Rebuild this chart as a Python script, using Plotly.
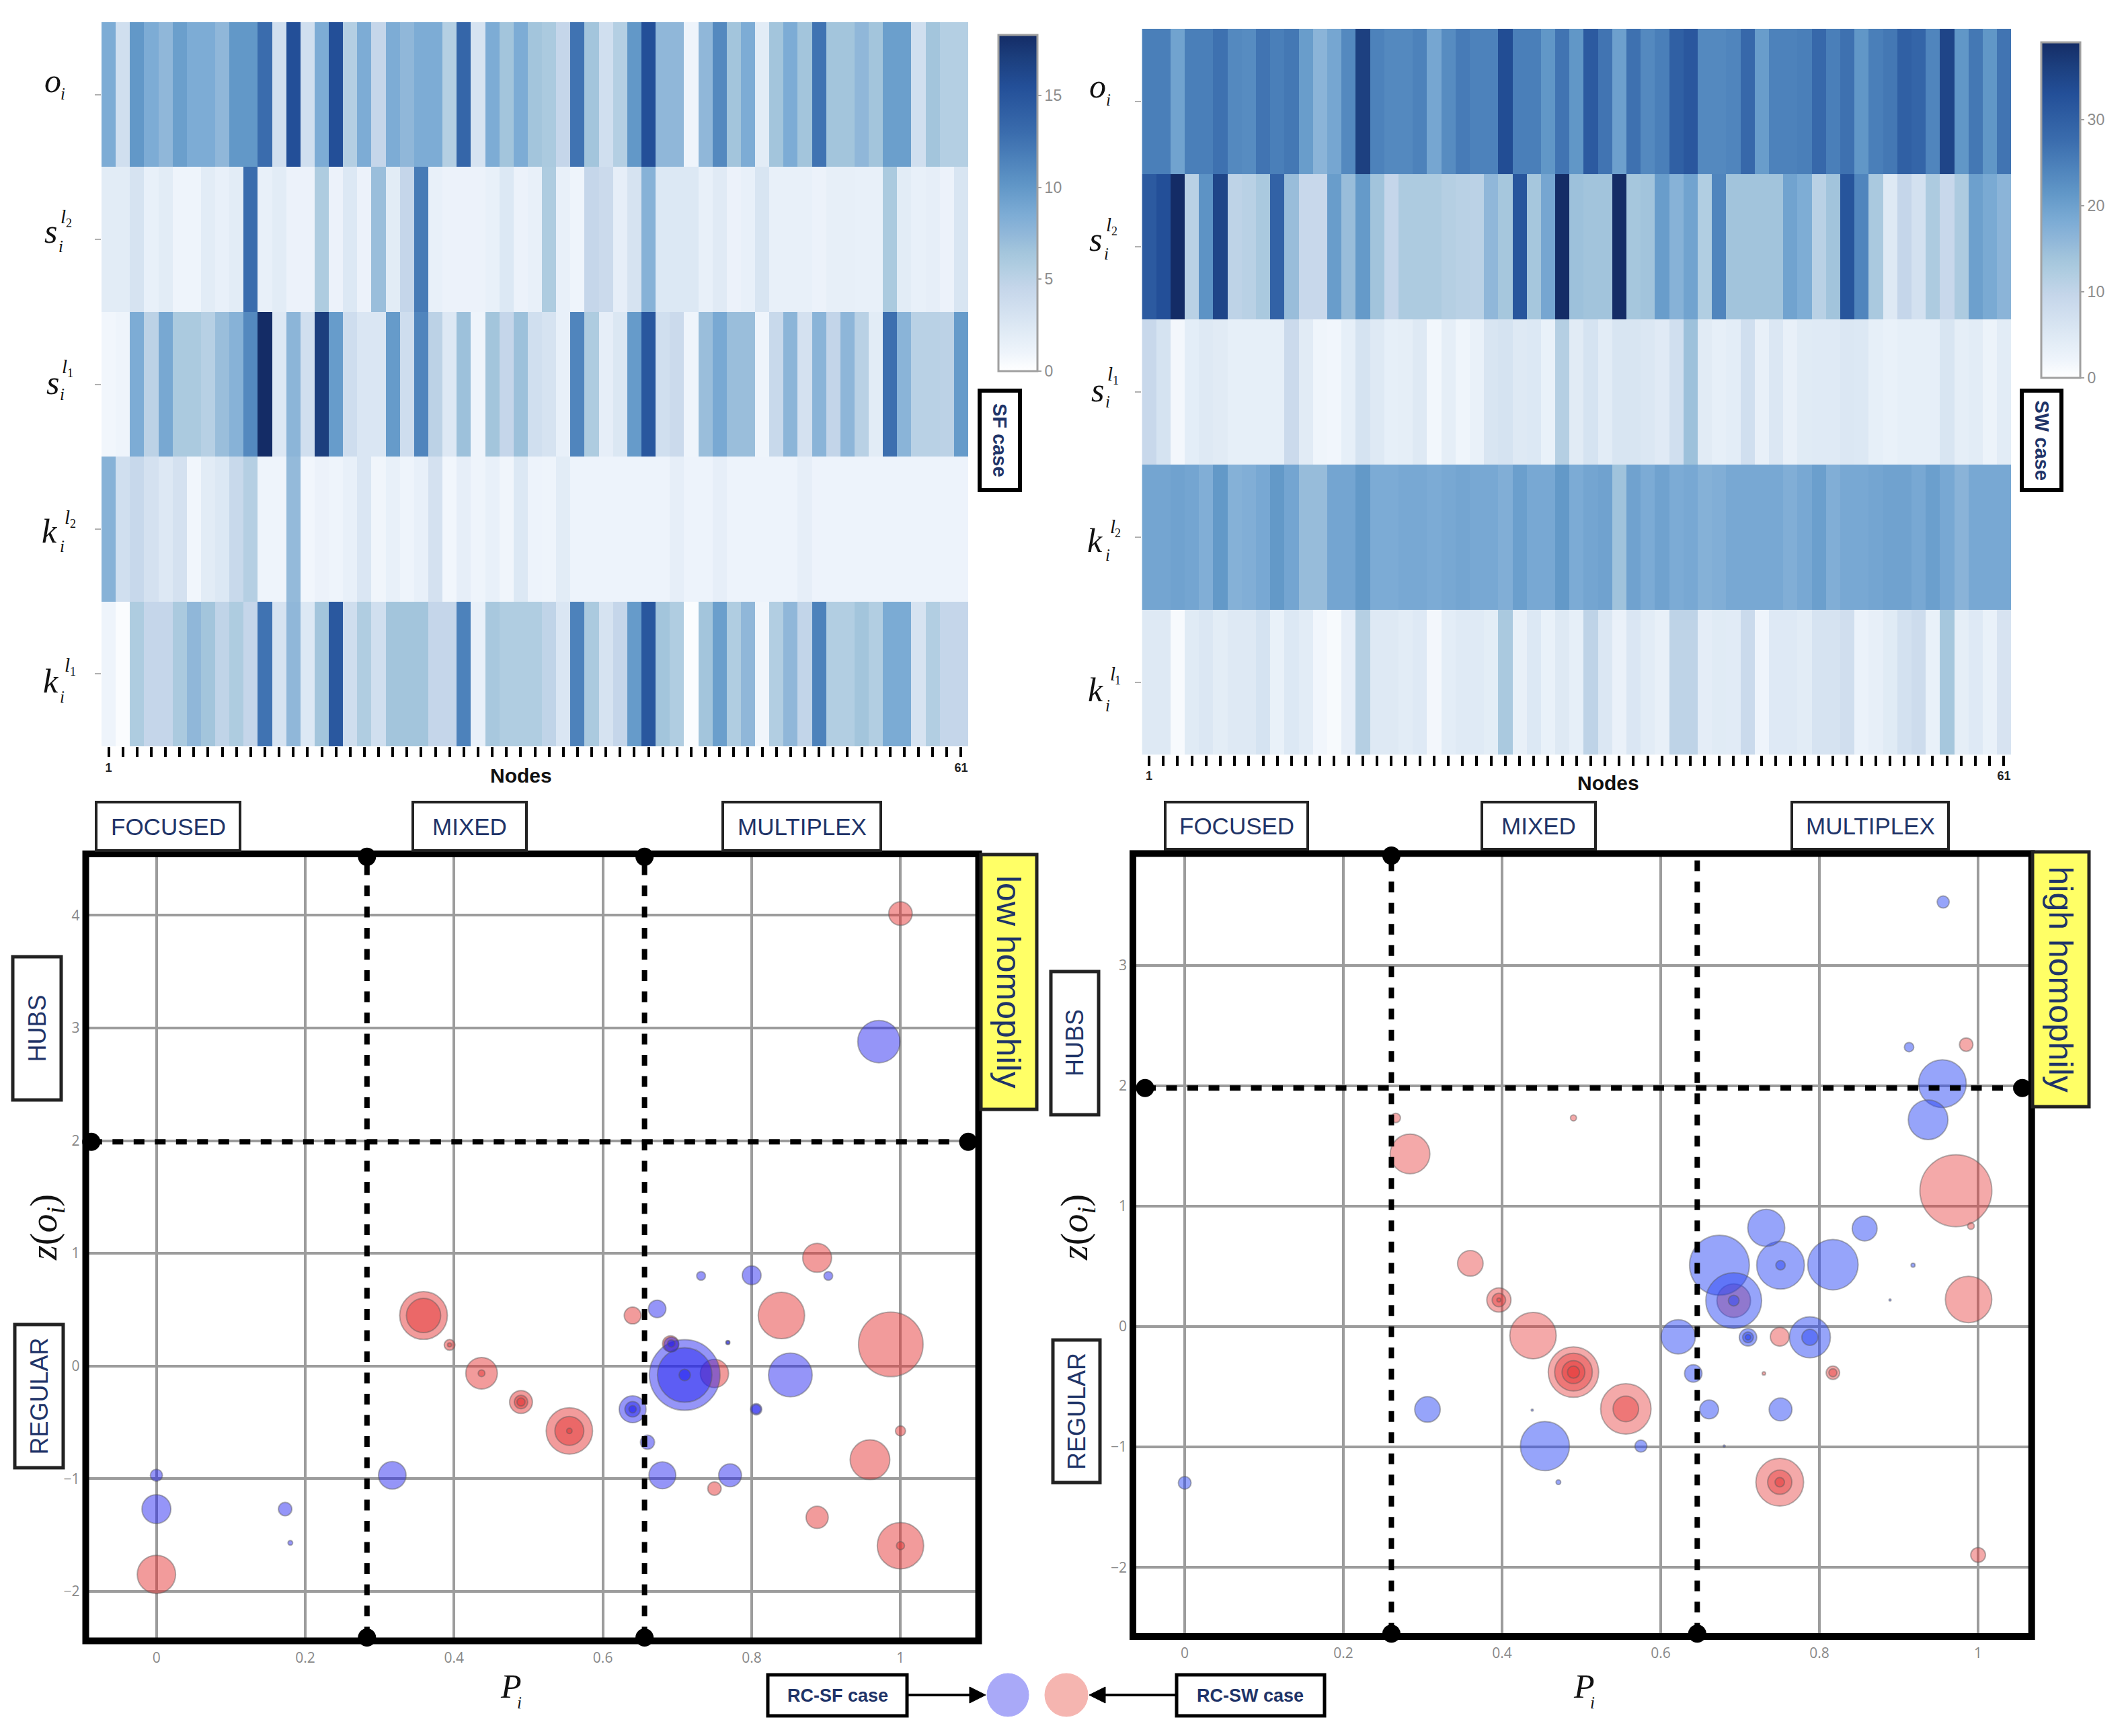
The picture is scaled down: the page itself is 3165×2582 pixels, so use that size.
import plotly.graph_objects as go

W, H = 3165, 2582

# ---------- heatmap data ----------
row_names = ["o", "s2", "s1", "k2", "k1"]
nodes = list(range(1, 62))
sf_o = [8.5,3.5,10,8.5,7.5,9.5,8.5,8.5,7.5,10,10,13,3.5,15.5,3.5,8.5,15.5,5.5,8.5,4.5,8.5,7.5,8.5,8.5,5.5,13.5,3,8.5,6.5,8.5,6.5,6,4.5,12.5,6.5,3.5,5.5,10,15.5,7.5,7.5,1,7.5,11,6.5,8.5,2,6.5,8.5,6.5,12.5,6.5,6.5,7.5,6.5,9.5,9.5,3.5,6.5,5.5,5.5]
sf_s2 = [2,2,3,1.5,2,1,1,2,1.5,2,13,1.5,2,1.2,1.2,5.8,1.2,2.5,1.2,7,2,4.5,12,1.5,1.2,1.2,1.2,1.5,2.5,1.2,1.5,5.8,1.5,1,4.5,4,1.7,3,8,2.5,2.5,2.5,1.5,2.2,1.2,1.5,2.8,1.5,1.5,1.5,1.2,1.6,1.6,1.5,1.5,6,2,1.5,1.7,1.2,2.8]
sf_s1 = [.8,1,8.5,5,8.8,6,6,5.3,7,8,11,18.3,2.4,7.7,3.5,17,9.7,3.7,2.7,2.7,9.8,3.7,11.3,5,2.4,6.8,1,6.5,4.5,6.8,3.5,3,1.5,11.3,5.8,1.7,2.6,9.8,14.8,3.5,4,1,7,8.7,7,7,1,4.2,7.7,3.2,7.8,4.6,7.6,5.2,2,12.8,7.8,5.2,5.2,5,9.8]
sf_k2 = [8,3.5,4.3,3.2,2.4,3.2,.8,2,2.5,4.2,5.4,1,1,7.3,.8,1.2,1,1.5,2.7,.9,1.5,1,1.5,3.2,.8,1.7,1,1.5,.9,2.5,1.1,1,2,1.1,1.1,1.1,1.1,1.1,1.1,1.1,1.7,1.1,1.1,1.7,1.1,1.1,1.1,1.1,1.1,1.7,1.1,1.1,1.1,1.1,1.1,1.1,1.1,1.1,1.1,1.1,1.1]
sf_k1 = [1,.3,5.8,4.5,4.5,6,7.5,6.5,4.8,5.8,4.5,12.5,3,7.5,2.5,6.5,14.7,3.6,5.7,3.5,6.5,6.5,6.5,4.5,4.5,11.5,1.5,6.2,5.7,5.7,5.7,4.8,2.7,11.5,6,3,4.5,9.8,14.8,6.5,5.7,.3,6.5,9.5,5.7,7.5,.9,5.6,7.5,4.7,11.5,5.6,5.6,6.5,5.6,8.6,8.6,3,5.6,4.5,4.5]

sw_o = [25,25,19.5,25,25,27,23.5,23,26.5,25,26,20.5,16.5,19,23.5,36,24.5,23.5,23.5,24.5,19,23,25.5,24.5,24.5,33.5,25,25,21.5,26.5,21.5,31,26.5,20,27,23.5,25,30,31.5,23.5,23.5,24,28.5,20.5,24.5,24.5,25,28.5,25,27,21.5,25,26,30,29,24,35,21.5,26,21.5,26.5]
sw_s2 = [31,33,39,11,22,35,10.5,11,13,29.5,15,9,9,20.5,15,21,14,9.5,12.5,12.5,12.5,11.5,11,10.8,16,13.5,32,13.5,19,39,14.5,14,14,39,13.5,14,20.5,17,19.5,12,24,14,14,14,14,19.5,18,11,14,32,24,13,5,9.5,7,12.5,9,12.5,20,18.5,16.5]
sw_s1 = [9,6.5,1.5,4,5,4.5,3.5,3.5,3.5,3.5,8.5,4.5,2,1.8,3.5,6.5,5,3.5,3.7,5,1.6,3.7,2,3,6,6.5,5,5.3,3,11.5,4.5,6.5,4.3,6,6,5.5,4.7,7.5,14.5,4.5,3.5,4,7.5,3.2,5.5,3.2,4.6,4.8,4.8,5.5,5.3,3.5,3,3.5,3.5,3.5,6,3.7,4.3,2.4,4.3]
sw_k2 = [19.2,19.2,19.7,19.2,17.7,21.2,17.2,17.7,18.7,21.2,19.2,15.2,15.2,19.2,19.2,21.2,18.2,18.2,18.7,18.7,18.2,18.7,19.2,18.7,18.7,17.7,20.2,18.7,18.7,21.2,18.2,19.2,19.7,14.2,19.7,18.2,19.7,18.2,18.7,17.2,17.7,18.7,18.7,18.7,18.7,17.7,18.7,20.2,17.7,18.7,18.7,19.2,19.7,19.7,18.7,20.2,18.7,16.7,18.7,18.7,18.7]
sw_k1 = [5,5,1,4.6,5.5,4.1,5,5,6.5,3,5.3,4.2,1.7,1,3.6,11.5,5,5,4.3,4.9,1.5,4,4.8,4.8,4.1,13,3.2,5.3,3,5,3.5,10.5,5.5,2.9,5.7,4.3,3.2,10.5,10.5,3.9,4.6,4.4,8.7,2.2,4.9,4.9,4.2,6.4,6.4,7.6,2.7,3.4,4.6,7,8,3,13.5,3.7,4.9,3,6.3]

# ---------- bubble data (P_i, z(o_i), diameter) ----------
sf_blue_p = [.71,.71,.852,.971,0,.317,.64,.68,.771,.80,.66,.673,0,.173,.64,.71,.732,.903,.806,.692,.64,.806,.18,.768,.768,.692]
sf_blue_z = [-.08,-.08,-.08,2.88,-1.27,-.97,-.384,-.97,-.97,.805,-.677,.507,-.97,-1.27,-.384,-.08,.80,.80,-.384,.19,-.384,-.384,-1.57,.208,.208,.2]
sf_blue_d = [105,81,65,63,43,41,40,40,34,28,21,26,18,20,23,17,13,13,17,22,11,14,7,6,5,11]
sf_red_p = [.987,.359,.555,.84,1.0,0,.959,.437,.75,.888,1.0,.49,.888,.359,.555,.691,.64,.49,.75,.394,1.0,.49,1.0,.437,.555,.394]
sf_red_z = [.192,.448,-.576,.448,-1.595,-1.85,-.832,-.064,-.066,.96,4.016,-.32,-1.344,.448,-.576,.197,.448,-.32,-1.088,.187,-.576,-.32,-1.595,-.064,-.576,.187]
sf_red_d = [96,71,69,69,69,57,59,47,42,43,35,34,33,51,43,24,25,20,20,16,15,12,12,10,8,6]

sw_blue_p = [.674,.692,.817,.454,.751,.788,.955,.937,.733,.622,.857,.306,.751,.661,.710,.641,.788,0,.575,.956,.710,.692,.751,.913,.710,.471,.918,.889,.438,.68]
sw_blue_z = [.509,.215,.514,-.993,.509,-.09,2.017,1.717,.819,-.085,.814,-.689,-.689,-.689,-.09,-.39,-.09,-1.298,-.993,3.525,-.09,.215,.509,2.32,-.09,-1.293,.509,.22,-.694,-.993]
sw_blue_d = [89,83,75,73,71,61,71,59,55,51,37,38,34,28,26,26,24,19,18,18,16,16,14,14,8,7,6,3,3,3]
sw_red_p = [.972,.49,.556,.75,.439,.988,.284,.692,.49,.396,.36,.556,.75,.49,.75,.985,1.0,.396,.49,.817,.266,.75,.817,.991,.49,.396,.73]
sw_red_z = [1.128,-.379,-.684,-1.293,-.075,.225,1.433,.215,-.379,.22,.524,-.684,-1.293,-.379,-.085,2.341,-1.897,.22,-.379,-.384,1.732,-1.293,-.384,.834,1.732,.22,-.389]
sw_red_d = [107,75,75,71,69,69,59,50,56,36,38,38,36,34,28,20,22,20,18,20,14,14,12,10,9,6,5]

x_ticks = [0, .2, .4, .6, .8, 1]
x_tick_text = ["0", "0.2", "0.4", "0.6", "0.8", "1"]
sf_y_ticks = [-2, -1, 0, 1, 2, 3, 4]
sw_y_ticks = [-2, -1, 0, 1, 2, 3]
sf_bar_ticks = [0, 5, 10, 15]
sw_bar_ticks = [0, 10, 20, 30]

# ---------- styling ----------
NAVY = "#1f3468"
levels = [(0,"#ffffff"),(1,"#eef4fb"),(2,"#e2ecf6"),(3,"#d6e3f1"),(4.5,"#c5d6ea"),(5.7,"#b0cde1"),(6.5,"#a3c5dc"),
          (7.5,"#90b7d9"),(8.5,"#7dacd5"),(10,"#6298c8"),(11.5,"#4d82bb"),(13,"#3a6cad"),(15.5,"#234f98"),(17,"#1c3f7e"),(18.3,"#142c66")]
cscale = [[a/18.3, c] for a, c in levels]

def px(x): return x / W
def py(y): return 1 - y / H

fig = go.Figure()

def heat(z, axis, xr, yr, zmax, ticks, bar):
    n = "" if axis == 1 else str(axis)
    fig.add_trace(go.Heatmap(z=z, x=nodes, y=row_names, xaxis="x"+n, yaxis="y"+n, colorscale=cscale, zmin=0, zmax=zmax,
        xgap=0, ygap=0, hoverongaps=False,
        colorbar=dict(x=px(bar[0]), xanchor="left", xpad=0, y=py(bar[3]), yanchor="bottom", ypad=0,
                      lenmode="pixels", len=bar[3]-bar[2], thicknessmode="pixels", thickness=bar[1]-bar[0],
                      outlinecolor="#a0a0a0", outlinewidth=3, tickvals=ticks, ticks="outside", ticklen=5, tickwidth=2, tickcolor="#a0a0a0",
                      tickfont=dict(family="Liberation Sans", size=23, color="#8c8c8c"))))
    fig.update_layout({
        f"xaxis{n}": dict(domain=[px(xr[0]), px(xr[1])], range=[.5, 61.5], anchor="y"+n, tickmode="array", tickvals=nodes,
            ticktext=["<b>%d</b>" % v if v in (1, 61) else "" for v in nodes], ticks="outside", ticklen=15, tickwidth=4, tickcolor="#000",
            tickfont=dict(family="Liberation Sans", size=18, color="#222"), tickangle=0, showgrid=False, zeroline=False, showline=False),
        f"yaxis{n}": dict(domain=[py(yr[1]), py(yr[0])], autorange="reversed", anchor="x"+n, ticks="outside", ticklen=9, tickwidth=2,
            tickcolor="#b0b0b0", showticklabels=False, showgrid=False, zeroline=False, showline=False)})

heat([sf_o, sf_s2, sf_s1, sf_k2, sf_k1], 1, (151, 1440), (33, 1110), 18.3, sf_bar_ticks, (1485, 1543, 52, 552))
heat([sw_o, sw_s2, sw_s1, sw_k2, sw_k1], 2, (1698.4, 2991), (42.7, 1122.5), 39, sw_bar_ticks, (3036, 3094, 63, 562))

SF_BLUE = "rgba(30,30,240,0.47)"
SW_BLUE = "rgba(40,70,245,0.49)"
SF_RED = "rgba(228,50,50,0.49)"
SW_RED = "rgba(228,50,50,0.42)"
EDGE = "rgba(90,90,90,0.45)"

def bubbles(p, z, d, col, axis):
    n = str(axis)
    fig.add_trace(go.Scatter(x=p, y=z, mode="markers", xaxis="x"+n, yaxis="y"+n, showlegend=False,
        marker=dict(size=d, sizemode="diameter", color=col, opacity=1, line=dict(color=EDGE, width=2))))

def scatter_axes(axis, xr, yr, xrange, yrange, yticks):
    n = str(axis)
    common = dict(showgrid=True, gridcolor="#9c9c9c", gridwidth=3.5, zeroline=False, showline=False, ticks="",
                  tickfont=dict(family="Open Sans", size=21, color="#888888"))
    fig.update_layout({
        f"xaxis{n}": dict(domain=[px(xr[0]), px(xr[1])], range=xrange, anchor="y"+n, tickmode="array", tickvals=x_ticks, ticktext=x_tick_text, ticklabelstandoff=10, **common),
        f"yaxis{n}": dict(domain=[py(yr[1]), py(yr[0])], range=yrange, anchor="x"+n, tickmode="array", tickvals=yticks, ticklabelstandoff=8, **common)})

scatter_axes(3, (127.5, 1455.5), (1270, 2440.5), [-.095, 1.105], [-2.44, 4.546], sf_y_ticks)
scatter_axes(4, (1685, 3021.7), (1269.4, 2434), [-.0653, 1.0675], [-2.574, 3.928], sw_y_ticks)

bubbles(sf_red_p, sf_red_z, sf_red_d, SF_RED, 3)
bubbles(sf_blue_p, sf_blue_z, sf_blue_d, SF_BLUE, 3)
bubbles(sw_red_p, sw_red_z, sw_red_d, SW_RED, 4)
bubbles(sw_blue_p, sw_blue_z, sw_blue_d, SW_BLUE, 4)

shapes, ann = [], []

# threshold lines and their end dots
DASH = "16px,15.5px"
thresholds = {3: dict(v=[.283, .656], h=1.99, top=[4.52, 4.52], bot=[-2.41, -2.41], left=-.0875, right=1.091),
              4: dict(v=[.2605, .646], h=1.98, top=[3.91, 3.94], bot=[-2.55, -2.55], left=-.05, right=1.0557)}
for a, t in thresholds.items():
    n = str(a)
    for i, v in enumerate(t["v"]):
        shapes.append(dict(type="line", xref="x"+n, yref="y"+n, x0=v, x1=v, y0=t["bot"][i], y1=t["top"][i], line=dict(color="#000", width=8, dash=DASH)))
    shapes.append(dict(type="line", xref="x"+n, yref="y"+n, x0=t["left"], x1=t["right"], y0=t["h"], y1=t["h"], line=dict(color="#000", width=8, dash=DASH)))
    shapes.append(dict(type="rect", xref="x"+n+" domain", yref="y"+n+" domain", x0=0, x1=1, y0=0, y1=1, line=dict(color="#000", width=10)))
    fig.add_trace(go.Scatter(x=t["v"] + t["v"] + [t["left"], t["right"]], y=t["top"] + t["bot"] + [t["h"], t["h"]], mode="markers",
        xaxis="x"+n, yaxis="y"+n, showlegend=False, cliponaxis=False, marker=dict(size=27, color="#000")))

def box(x0, x1, y0, y1, text, size, angle=0, fill="#ffffff", bold=False, lw=4, edge="#222222", color=NAVY):
    shapes.append(dict(type="rect", xref="paper", yref="paper", x0=px(x0), x1=px(x1), y0=py(y1), y1=py(y0), fillcolor=fill, line=dict(color=edge, width=lw)))
    ann.append(dict(xref="paper", yref="paper", x=px((x0+x1)/2), y=py((y0+y1)/2), text=f"<b>{text}</b>" if bold else text, showarrow=False, textangle=angle,
                    xanchor="center", yanchor="middle", font=dict(family="Liberation Sans", size=size, color=color)))

for x0, x1, t in [(143,357,"FOCUSED"),(614,783,"MIXED"),(1075,1310,"MULTIPLEX")]:
    box(x0, x1, 1193, 1265, t, 35)
for x0, x1, t in [(1733,1945,"FOCUSED"),(2204,2373,"MIXED"),(2665,2898,"MULTIPLEX")]:
    box(x0, x1, 1193, 1263, t, 35)
box(19, 91, 1423, 1636, "HUBS", 36, -90, lw=5)
box(22, 94, 1970, 2183, "REGULAR", 36, -90, lw=5)
box(1563, 1634, 1445, 1658, "HUBS", 36, -90, lw=5)
box(1566, 1636, 1993, 2205, "REGULAR", 36, -90, lw=5)
box(1459, 1542, 1271, 1650, "low homophily", 50, 90, fill="#ffff66", lw=5)
box(3023, 3107, 1267, 1646, "high homophily", 50, 90, fill="#ffff66", lw=5)
box(1457, 1517, 581, 729, "SF case", 29, 90, bold=True, lw=6, edge="#000")
box(3007, 3066, 581, 729, "SW case", 29, 90, bold=True, lw=6, edge="#000")
box(1142, 1349, 2491, 2552, "RC-SF case", 27, bold=True, lw=5, edge="#000")
box(1750, 1970, 2491, 2552, "RC-SW case", 27, bold=True, lw=5, edge="#000")

# legend keys and arrows
shapes.append(dict(type="circle", xref="paper", yref="paper", x0=px(1468), x1=px(1530), y0=py(2553), y1=py(2489), fillcolor="#a9a9f8", line=dict(color="#a9a9f8", width=1)))
shapes.append(dict(type="circle", xref="paper", yref="paper", x0=px(1554), x1=px(1618), y0=py(2553), y1=py(2489), fillcolor="#f5b5b0", line=dict(color="#f5b5b0", width=1)))
def arrow(x_from, x_tip, y=2521, head=24, half=12):
    sign = 1 if x_tip > x_from else -1
    shapes.append(dict(type="line", xref="paper", yref="paper", x0=px(x_from), x1=px(x_tip - sign*head), y0=py(y), y1=py(y), line=dict(color="#000", width=4)))
    bx = x_tip - sign*head
    shapes.append(dict(type="path", xref="paper", yref="paper", fillcolor="#000", line=dict(color="#000", width=1),
                       path=f"M {px(x_tip)} {py(y)} L {px(bx)} {py(y-half)} L {px(bx)} {py(y+half)} Z"))
arrow(1349, 1466)
arrow(1750, 1620)

SERIF = "Liberation Serif"
def txt(x, y, text, size, angle=0, family=SERIF, color="#111"):
    ann.append(dict(xref="paper", yref="paper", x=px(x), y=py(y), text=text, showarrow=False, textangle=angle, xanchor="center", yanchor="middle",
                    font=dict(family=family, size=size, color=color)))

def row_label(x, y, letter, digit, sx, sy, ix, iy):
    txt(x, y, f"<i>{letter}</i>", 50)
    txt(x + ix, y + iy, "<i>i</i>", 25)
    if digit:
        txt(x + sx, y + sy, "<i>l</i>", 29)
        txt(x + sx + 8, y + sy + 10, digit, 18)

for dx, oy, s2y, s1y, k2y, k1y in [(0, 120, 344, 569, 790, 1013), (1555, 128, 356, 580, 804, 1026)]:
    row_label(78 + dx, oy, "o", "", 0, 0, 15, 20)
    row_label(75 + dx, s2y, "s", "2", 19, -22, 15, 22)
    row_label(78 + dx, s1y, "s", "1", 18, -24, 14, 18)
    row_label(73 + dx, k2y, "k", "2", 27, -21, 19, 22)
    row_label(75 + dx, k1y, "k", "1", 25, -24, 17, 23)

txt(775, 1153, "<b>Nodes</b>", 30, family="Liberation Sans", color="#111")
txt(2392, 1165, "<b>Nodes</b>", 30, family="Liberation Sans", color="#111")
for xc, yc in [(69, 1826), (1602, 1826)]:
    txt(xc, yc, "<i>z</i>(<i>o</i><sub><i>i</i></sub>)", 56, angle=-90)
for xc in (760, 2356):
    txt(xc, 2508, "<i>P</i>", 50)
    txt(xc + 12, 2532, "<i>i</i>", 25)

fig.update_layout(width=W, height=H, autosize=False, margin=dict(l=0, r=0, t=0, b=0), paper_bgcolor="#fff", plot_bgcolor="#fff",
                  showlegend=False, shapes=shapes, annotations=ann)
fig.write_html("out.html", post_script="document.body.style.margin='0';", config={"displayModeBar": False})
